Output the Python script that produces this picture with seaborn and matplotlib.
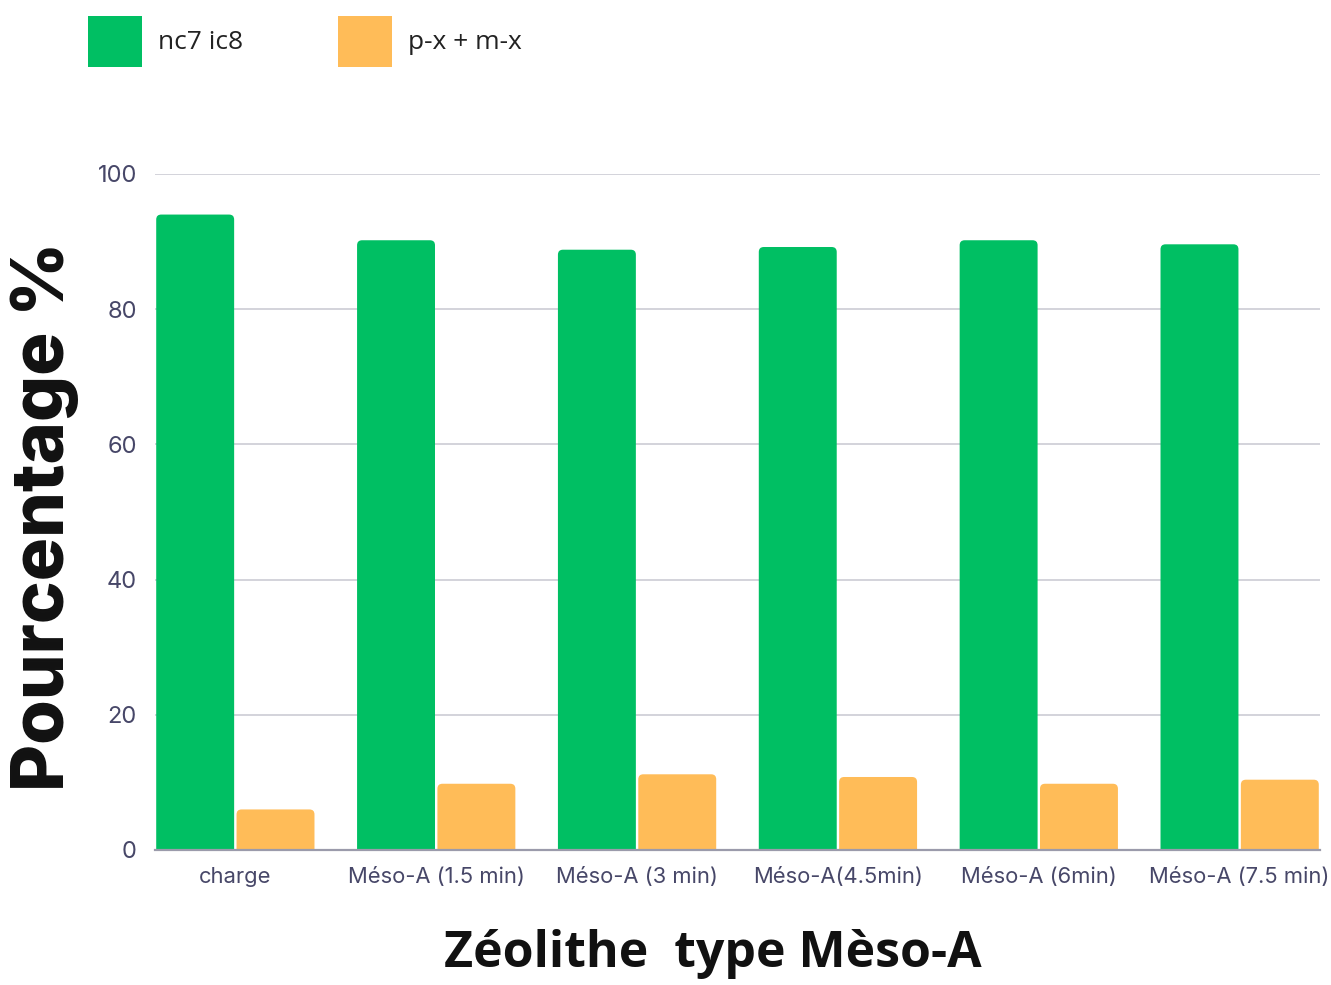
import matplotlib
matplotlib.use("Agg")
import matplotlib.pyplot as plt
from matplotlib.patches import FancyBboxPatch, Rectangle
import seaborn as sns
import pandas as pd

categories = ["charge", "Méso-A (1.5 min)", "Méso-A (3 min)", "Méso-A(4.5min)",
              "Méso-A (6min)", "Méso-A (7.5 min)"]
nc7_ic8 = [94.0, 90.2, 88.8, 89.2, 90.2, 89.6]
px_mx = [6.0, 9.8, 11.2, 10.8, 9.8, 10.4]
series_names = ["nc7 ic8", "p-x + m-x"]
y_ticks = [0, 20, 40, 60, 80, 100]

df = pd.DataFrame({
    "cat": categories * 2,
    "val": nc7_ic8 + px_mx,
    "serie": [series_names[0]] * len(categories) + [series_names[1]] * len(categories),
})

sns.set_theme(style="white")
plt.rcParams["font.family"] = ["Inter", "DejaVu Sans"]

fig = plt.figure(figsize=(13.31, 9.85), dpi=100)
ax = fig.add_axes([155 / 1331, 1 - 850 / 985, (1320 - 155) / 1331, (850 - 174) / 985])

palette = {series_names[0]: "#00BF63", series_names[1]: "#FFBC58"}
sns.barplot(data=df, x="cat", y="val", hue="serie", palette=palette, order=categories,
            hue_order=series_names, width=0.8, gap=0.03, ax=ax, saturation=1,
            edgecolor="none", legend=True)

ax.set_ylim(0, 100)
ax.set_xlim(-0.4, len(categories) - 0.6)
ax.set_yticks(y_ticks)
ax.yaxis.grid(True, color="#d3d3db", linewidth=1.4)
ax.set_axisbelow(True)
for s in ["top", "right", "left"]:
    ax.spines[s].set_visible(False)
ax.spines["bottom"].set_color("#9b9bab")
ax.spines["bottom"].set_linewidth(1.6)
ax.spines["bottom"].set_zorder(5)
ax.tick_params(axis="both", length=0, labelcolor="#474768")
ax.tick_params(axis="x", pad=12, labelsize=15.8)
ax.tick_params(axis="y", pad=13, labelsize=17)
ax.set_xlabel("")
ax.set_ylabel("")

# legend (square swatches)
ax.get_legend().remove()
leg_handles = [Rectangle((0, 0), 1, 1, facecolor=palette[n], edgecolor="none") for n in series_names]
fig.legend(leg_handles, series_names, loc="upper left", bbox_to_anchor=(64 / 1331, 1 + 8 / 985),
           ncol=2, frameon=False, prop={"family": "Open Sans", "size": 19},
           handlelength=2.05, handleheight=2.6, handletextpad=0.6, columnspacing=3.6,
           labelcolor="#222222")

# rounded top corners on bars, using each bar's own geometry
fig.canvas.draw()
px_per_x = ax.transData.transform((1, 0))[0] - ax.transData.transform((0, 0))[0]
px_per_y = ax.transData.transform((0, 1))[1] - ax.transData.transform((0, 0))[1]
r_px = 5.0
rx, ry = r_px / px_per_x, r_px / px_per_y
for p in list(ax.patches):
    if not isinstance(p, Rectangle) or p.get_height() <= 0:
        continue
    x, y, w, h = p.get_x(), p.get_y(), p.get_width(), p.get_height()
    fb = FancyBboxPatch((x, y - 2 * ry), w, h + 2 * ry,
                        boxstyle=f"round,pad=0,rounding_size={rx}",
                        mutation_aspect=ry / rx, facecolor=p.get_facecolor(),
                        edgecolor="none", zorder=p.get_zorder())
    p.remove()
    ax.add_patch(fb)

fig.text(713 / 1331, 1 - 967 / 985, "Zéolithe  type Mèso-A", ha="center", va="baseline",
         fontsize=36, fontweight="bold", family="Open Sans", color="#111111")
fig.text(45 / 1331, 1 - 516 / 985, "Pourcentage %", ha="center", va="center",
         rotation=90, fontsize=52, fontweight="heavy", family=["Inter", "DejaVu Sans"],
         color="#111111")

fig.savefig("out.png", dpi=100, facecolor="white")
